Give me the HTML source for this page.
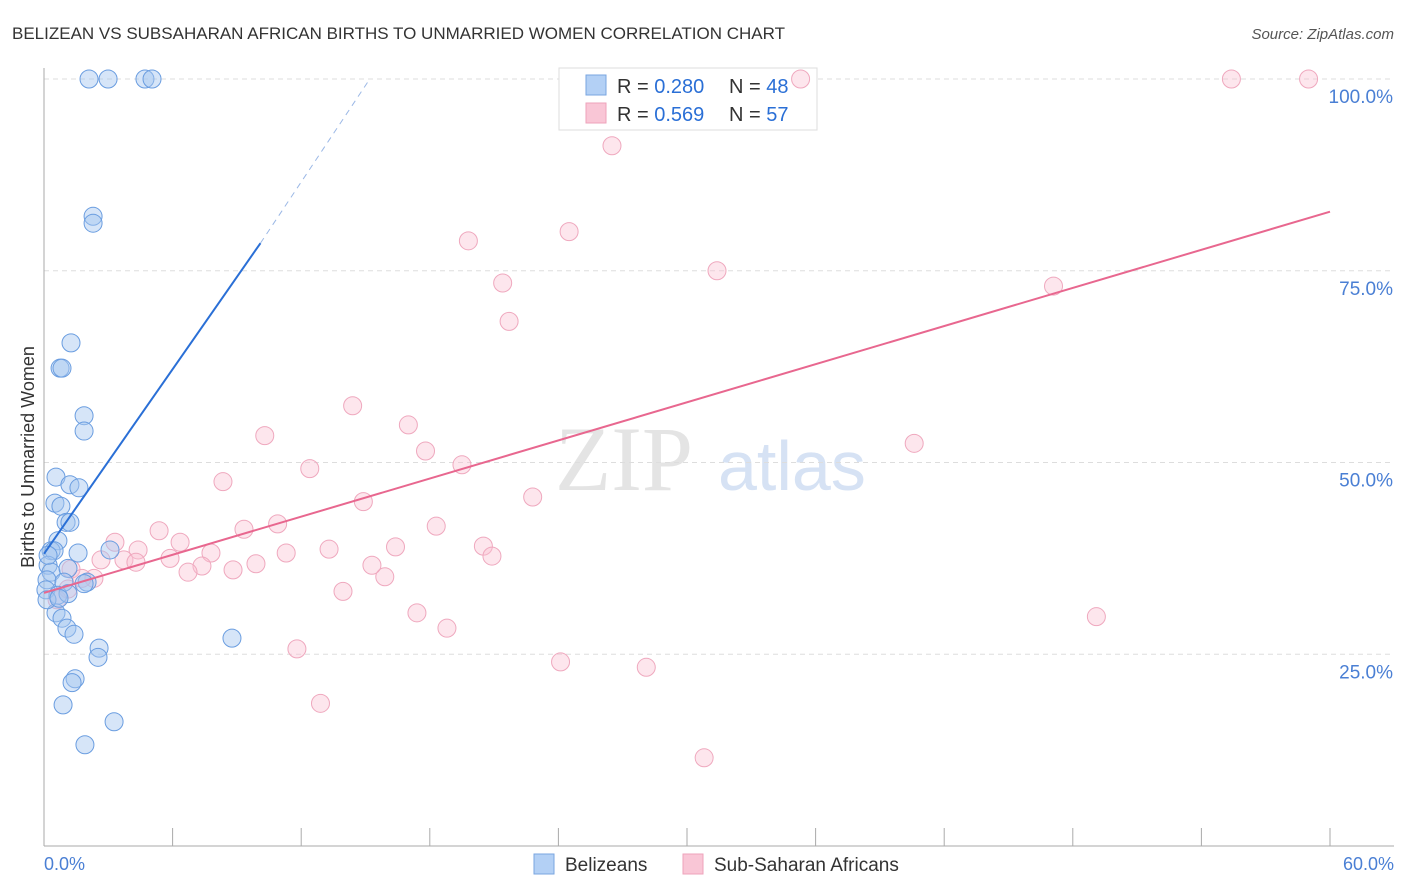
<!DOCTYPE html>
<html><head><meta charset="utf-8"><style>
body{margin:0;background:#fff;font-family:"Liberation Sans",sans-serif;}
#wrap{position:relative;width:1406px;height:892px;overflow:hidden}
</style></head><body>
<div id="wrap">
<svg id="svg" width="1406" height="892"></svg>
</div>
<script>
const blueX=[2.1,2.99,4.71,5.04,2.29,2.29,1.26,0.75,0.84,1.87,1.87,0.56,0.51,1.21,1.63,0.79,1.03,1.21,0.65,0.33,0.47,1.59,3.08,0.19,0.33,1.12,0.14,0.93,2.01,1.87,0.09,0.65,1.12,0.56,0.84,1.07,1.40,2.57,2.52,1.45,1.31,0.89,3.27,1.91,8.77,0.19,0.14,0.70];
const blueY=[100,100,100,100,82.1,81.2,65.6,62.3,62.3,56.1,54.1,48.1,44.7,47.1,46.7,44.3,42.2,42.2,39.8,38.5,38.5,38.2,38.6,36.6,35.7,36.2,34.7,34.4,34.4,34.2,33.4,32.7,32.9,30.4,29.7,28.4,27.6,25.8,24.6,21.8,21.3,18.4,16.2,13.2,27.1,37.9,32.1,32.3];
const pinkX=[35.3,55.4,59.0,26.5,19.8,24.5,31.4,21.4,21.7,47.1,14.4,10.3,17.0,17.8,19.5,12.4,40.6,8.35,22.8,14.9,10.9,18.3,9.33,5.37,3.31,6.35,2.66,4.39,7.79,11.3,13.3,16.4,20.5,20.9,5.88,7.37,9.89,8.82,3.73,4.29,6.72,15.9,15.3,2.33,1.26,13.95,1.12,0.61,17.4,18.8,11.8,24.1,28.1,12.9,49.1,30.8,1.77];
const pinkY=[100,100,100,91.3,78.9,80.1,75.0,73.4,68.4,73.0,57.4,53.5,54.9,51.5,49.7,49.2,52.5,47.5,45.5,44.9,42.0,41.7,41.3,41.1,39.6,39.6,37.3,38.6,38.2,38.2,38.7,39.0,39.1,37.8,37.5,36.5,36.8,36.0,37.3,37.0,35.7,35.1,36.6,34.9,36.1,33.2,33.5,32.1,30.4,28.4,25.7,24.0,23.3,18.6,29.9,11.5,34.9];
const yTicks=[25,50,75,100];
const yTickLabels=["25.0%","50.0%","75.0%","100.0%"];
const blueLine=[0,38.1,10.1,78.6,15.2,100];
const pinkLine=[0,33.0,60,82.7];

const NS="http://www.w3.org/2000/svg";
const svg=document.getElementById('svg');
const X=v=>44+v*(1286/60), Y=v=>846-v*7.67;
function mk(t,a,p){const e=document.createElementNS(NS,t);for(const k in a)e.setAttribute(k,a[k]);(p||svg).appendChild(e);return e;}
let t=mk('text',{x:12,y:39,'font-size':17,fill:'#333'});t.textContent="BELIZEAN VS SUBSAHARAN AFRICAN BIRTHS TO UNMARRIED WOMEN CORRELATION CHART";

t=mk('text',{x:1394,y:39,'font-size':15,fill:'#555','font-style':'italic','text-anchor':'end'});t.textContent="Source: ZipAtlas.com";

t=mk('text',{x:555,y:490,'font-size':92,fill:'#e4e4e4','font-family':'Liberation Serif'});t.textContent="ZIP";

t=mk('text',{x:718,y:490,'font-size':70,fill:'#d6e2f4'});t.textContent="atlas";

yTicks.forEach((v,i)=>{
 let g=mk('line',{x1:44,x2:1394,y1:Y(v),y2:Y(v),stroke:'#ddd','stroke-dasharray':'5,4'});
 
 let l=mk('text',{x:1393,y:Y(v)+24,'font-size':19,fill:'#4a7fd4','text-anchor':'end'});l.textContent=yTickLabels[i];
 
});
let ax=mk('line',{x1:44,x2:44,y1:68,y2:846,stroke:'#aaa'});
ax=mk('line',{x1:44,x2:1394,y1:846,y2:846,stroke:'#aaa'});
for(let i=1;i<=10;i++){let k=mk('line',{x1:X(i*6),x2:X(i*6),y1:828,y2:846,stroke:'#aaa'});}
t=mk('text',{x:44,y:870,'font-size':18,fill:'#4a7fd4'});t.textContent="0.0%";
t=mk('text',{x:1394,y:870,'font-size':18,fill:'#4a7fd4','text-anchor':'end'});t.textContent="60.0%";
t=mk('text',{x:0,y:0,'font-size':18,fill:'#333','text-anchor':'middle',transform:'translate(34,457) rotate(-90)'});t.textContent="Births to Unmarried Women";

// legend box (drawn before points so points overlap it like reference)
let lg=mk('g',{});
mk('rect',{x:559,y:68,width:258,height:62,fill:'#fff',stroke:'#ddd'},lg);
pinkX.forEach((v,i)=>{let c=mk('circle',{cx:X(v),cy:Y(pinkY[i]),r:9,fill:'rgba(249,192,210,0.4)',stroke:'#efa8be','stroke-width':1});
 });
blueX.forEach((v,i)=>{let c=mk('circle',{cx:X(v),cy:Y(blueY[i]),r:9,fill:'rgba(165,198,240,0.45)',stroke:'#6a9de0','stroke-width':1});
 });
let ln=mk('line',{x1:X(blueLine[0]),y1:Y(blueLine[1]),x2:X(blueLine[2]),y2:Y(blueLine[3]),stroke:'#2a6fd6','stroke-width':2});

ln=mk('line',{x1:X(blueLine[2]),y1:Y(blueLine[3]),x2:X(blueLine[4]),y2:Y(blueLine[5]),stroke:'#9bb8e6','stroke-width':1,'stroke-dasharray':'6,5'});

ln=mk('line',{x1:X(pinkLine[0]),y1:Y(pinkLine[1]),x2:X(pinkLine[2]),y2:Y(pinkLine[3]),stroke:'#e8678f','stroke-width':2});

let lg2=mk('g',{});
mk('rect',{x:586,y:75,width:20,height:20,fill:'#b3d0f5',stroke:'#7aa6e0'},lg2);
mk('rect',{x:586,y:103,width:20,height:20,fill:'#f9c6d6',stroke:'#eea3bb'},lg2);
[["0.280","48",93],["0.569","57",121]].forEach(r=>{
 let a=mk('text',{x:617,y:r[2],'font-size':20,fill:'#333'},lg2);a.innerHTML='R = <tspan fill="#2a6fd6">'+r[0]+'</tspan>';
 let b=mk('text',{x:729,y:r[2],'font-size':20,fill:'#333'},lg2);b.innerHTML='N = <tspan fill="#2a6fd6">'+r[1]+'</tspan>';
});
let bl=mk('g',{});
mk('rect',{x:534,y:854,width:20,height:20,fill:'#b3d0f5',stroke:'#7aa6e0'},bl);
t=mk('text',{x:565,y:871,'font-size':19,fill:'#333'},bl);t.textContent="Belizeans";
mk('rect',{x:683,y:854,width:20,height:20,fill:'#f9c6d6',stroke:'#eea3bb'},bl);
t=mk('text',{x:714,y:871,'font-size':19,fill:'#333'},bl);t.textContent="Sub-Saharan Africans";
</script>
</body></html>
